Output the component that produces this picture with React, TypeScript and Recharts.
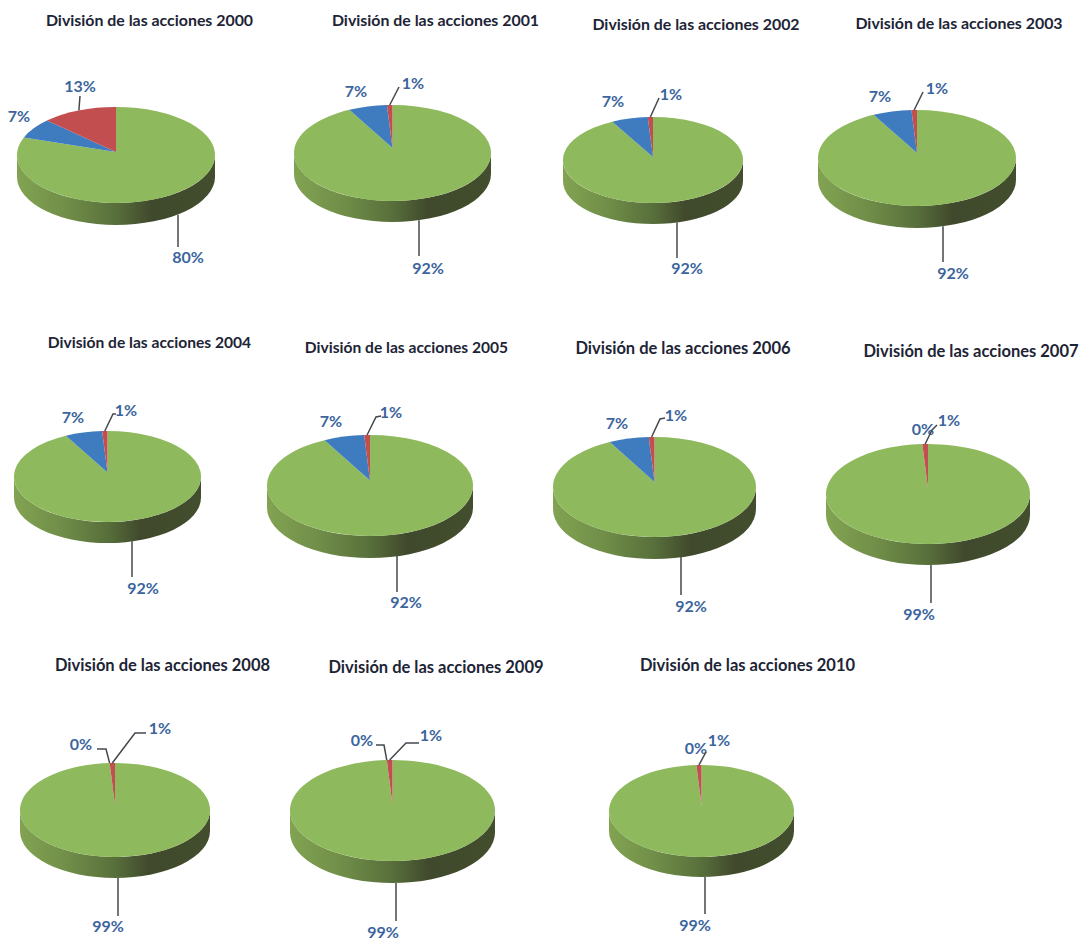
import React from "react";
import { PieChart, Pie, Cell } from "recharts";

// Share of each shareholder group per year, clockwise from twelve o'clock.
const years = [2000, 2001, 2002, 2003, 2004, 2005, 2006, 2007, 2008, 2009, 2010];
const mainShare = [80, 92, 92, 92, 92, 92, 92, 99, 99, 99, 99];
const blueShare = [7, 7, 7, 7, 7, 7, 7, 0, 0, 0, 0];
const redShare = [13, 1, 1, 1, 1, 1, 1, 1, 1, 1, 1];
const sliceColors = ["#8fb95d", "#3f7cbf", "#c24e50"];
const titlePrefix = "División de las acciones";

type Pt = [number, number];
type Tag = { at: Pt; via?: Pt[] };
type Layout = {
  cx: number; cy: number; rx: number; ry: number; depth: number; apex: number;
  title: Pt; titleSize: number; tags: Tag[];
};

// Placement of each pie on the page; tag order follows the slice order.
const layouts: Layout[] = [
  { cx: 116, cy: 155, rx: 99, ry: 48, depth: 22, apex: 3, title: [149.5, 19], titleSize: 15.9,
    tags: [{ at: [188, 256], via: [[178, 247]] }, { at: [19, 115] }, { at: [80, 85], via: [[80, 96]] }] },
  { cx: 392.5, cy: 153, rx: 98.5, ry: 48, depth: 21, apex: 5, title: [435.5, 19], titleSize: 15.9,
    tags: [{ at: [428, 267], via: [[419, 256]] }, { at: [356, 90] }, { at: [413, 82], via: [[399, 87]] }] },
  { cx: 653, cy: 160, rx: 90, ry: 43, depth: 21, apex: 3, title: [696, 23], titleSize: 15.9,
    tags: [{ at: [687, 267], via: [[677, 258]] }, { at: [613, 100] }, { at: [671, 93], via: [[659, 98]] }] },
  { cx: 917, cy: 158, rx: 99, ry: 48, depth: 22, apex: 5, title: [959, 22], titleSize: 15.9,
    tags: [{ at: [953, 272], via: [[943, 262]] }, { at: [880, 95] }, { at: [937, 87], via: [[923, 92]] }] },
  { cx: 107.5, cy: 476.5, rx: 93.5, ry: 45.5, depth: 21, apex: 4, title: [149.5, 342], titleSize: 15.6,
    tags: [{ at: [143, 587], via: [[132, 577]] }, { at: [73, 416] }, { at: [126, 409], via: [[113, 414], [116, 414]] }] },
  { cx: 370, cy: 485.5, rx: 103, ry: 50.5, depth: 22, apex: 5, title: [406.5, 347], titleSize: 15.6,
    tags: [{ at: [406, 601], via: [[397, 592]] }, { at: [331, 420] }, { at: [391, 411], via: [[376, 417], [381, 416]] }] },
  { cx: 654.5, cy: 487, rx: 101.5, ry: 50, depth: 22, apex: 5, title: [683, 348], titleSize: 16.5,
    tags: [{ at: [691, 605], via: [[681, 595]] }, { at: [617, 422] }, { at: [676, 414], via: [[660, 419], [665, 418]] }] },
  { cx: 928, cy: 494, rx: 102, ry: 50, depth: 21, apex: 6, title: [971, 351], titleSize: 16.5,
    tags: [{ at: [919, 613], via: [[931, 603]] }, { at: [923, 428] }, { at: [949, 419], via: [[932, 430], [937, 425]] }] },
  { cx: 115, cy: 810, rx: 95, ry: 47, depth: 21, apex: 5, title: [162.5, 665], titleSize: 16.5,
    tags: [{ at: [108, 925], via: [[118, 916]] }, { at: [81, 743], via: [[106, 749], [97, 749]] }, { at: [160, 727], via: [[135, 733], [146, 733]] }] },
  { cx: 392.5, cy: 810.5, rx: 102.5, ry: 50.5, depth: 22, apex: 6, title: [436, 667], titleSize: 16.5,
    tags: [{ at: [383, 931], via: [[396, 921]] }, { at: [362, 739], via: [[384, 745], [376, 745]] }, { at: [431, 734], via: [[406, 743], [419, 743]] }] },
  { cx: 701.5, cy: 811, rx: 92.5, ry: 46, depth: 20, apex: 6, title: [747.5, 665], titleSize: 16.5,
    tags: [{ at: [695, 924], via: [[705, 914]] }, { at: [696, 747] }, { at: [719, 739], via: [[706, 752]] }] },
];

const LABEL_FONT = "Lato, 'Open Sans', sans-serif";

const rad = (deg: number) => (deg * Math.PI) / 180;

// Perspective projection of a pie angle onto the rim of the tilted ellipse:
// the far half is foreshortened, so the pie's centre sits above the ellipse's centre.
const project = (l: Layout, angle: number): Pt => {
  const k = l.apex / l.ry;
  const u = Math.cos(rad(angle));
  const v = Math.sin(rad(angle));
  const w = 1 + k * v;
  const apexY = l.cy - l.apex;
  return [
    l.cx + (l.rx * Math.sqrt(1 - k * k) * u) / w,
    apexY - (l.ry * (1 - k * k) * v) / w,
  ];
};

// Recharts hands out a circular sector; flatten it onto the tilted ellipse of the pie.
const tiltedSlice = (l: Layout, index: number) => (props: any) => {
  const { startAngle, endAngle, fill } = props;
  const [ax, ay] = project(l, startAngle);
  const [bx, by] = project(l, endAngle);
  const large = Math.abs(startAngle - endAngle) > 180 ? 1 : 0;
  const top = `M${l.cx},${l.cy - l.apex} L${ax},${ay} A${l.rx},${l.ry} 0 ${large} 1 ${bx},${by} Z`;
  const left = l.cx - l.rx;
  const right = l.cx + l.rx;
  const wall =
    `M${left},${l.cy} L${left},${l.cy + l.depth} ` +
    `A${l.rx},${l.ry} 0 0 0 ${right},${l.cy + l.depth} L${right},${l.cy} ` +
    `A${l.rx},${l.ry} 0 0 1 ${left},${l.cy} Z`;
  return (
    <g>
      {index === 0 && <path d={wall} fill="url(#pieWall)" />}
      <path d={top} fill={fill} />
    </g>
  );
};

// Value tag with an optional leader line that starts on the slice rim.
const sliceTag = (l: Layout) => (props: any) => {
  const { midAngle, index, value } = props;
  const tag = l.tags[index];
  const [rimX, rimY] = project(l, midAngle);
  const front = Math.sin(rad(midAngle)) < 0;
  // Leaders from the front of the pie leave the bottom of the wall and drop straight down.
  const sx = front && tag.via ? tag.via[0][0] : rimX;
  const sy = front ? rimY + l.depth : rimY;
  const pts = tag.via ? [[sx, sy], ...tag.via] : null;
  return (
    <g>
      {pts && <polyline points={pts.map((p) => p.join(",")).join(" ")} fill="none" stroke="#44484d" strokeWidth={1.5} />}
      <text
        x={tag.at[0]}
        y={tag.at[1]}
        textAnchor="middle"
        dominantBaseline="central"
        fontFamily={LABEL_FONT}
        fontWeight={700}
        fontSize={16}
        fill="#3c659d"
      >
        {`${value}%`}
      </text>
    </g>
  );
};

export default function App() {
  return (
    <div style={{ position: "absolute", left: 0, top: 0, width: 1084, height: 939, background: "#fff" }}>
      <PieChart width={1084} height={939} margin={{ top: 0, right: 0, bottom: 0, left: 0 }}>
        <defs>
          <linearGradient id="pieWall" x1="0" y1="0" x2="1" y2="0">
            <stop offset="0%" stopColor="#82a352" />
            <stop offset="25%" stopColor="#708e48" />
            <stop offset="50%" stopColor="#586f3b" />
            <stop offset="68%" stopColor="#40492c" />
            <stop offset="100%" stopColor="#424e2d" />
          </linearGradient>
        </defs>
        {years.map((year, i) => {
          const l = layouts[i];
          const rows = [
            { name: "principal", value: mainShare[i] },
            { name: "azul", value: blueShare[i] },
            { name: "rojo", value: redShare[i] },
          ];
          return (
            <Pie
              key={year}
              data={rows}
              dataKey="value"
              nameKey="name"
              cx={l.cx}
              cy={l.cy}
              innerRadius={0}
              outerRadius={l.rx}
              startAngle={90}
              endAngle={-270}
              stroke="none"
              isAnimationActive={false}
              labelLine={false}
              label={sliceTag(l)}
              shape={(props: any) => tiltedSlice(l, props.index)(props)}
            >
              {rows.map((_, k) => (
                <Cell key={k} fill={sliceColors[k]} />
              ))}
            </Pie>
          );
        })}
        {years.map((year, i) => (
          <text
            key={year}
            x={layouts[i].title[0]}
            y={layouts[i].title[1]}
            textAnchor="middle"
            dominantBaseline="central"
            fontFamily={LABEL_FONT}
            fontWeight={700}
            fontSize={layouts[i].titleSize}
            fill="#1d2436"
          >
            {`${titlePrefix} ${year}`}
          </text>
        ))}
      </PieChart>
    </div>
  );
}
